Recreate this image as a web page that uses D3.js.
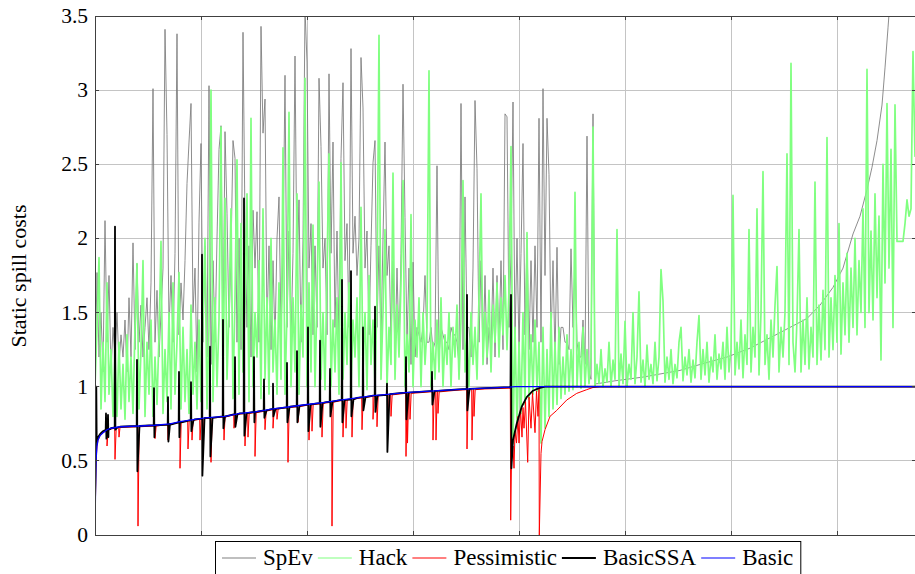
<!DOCTYPE html>
<html><head><meta charset="utf-8">
<script src="https://cdn.jsdelivr.net/npm/d3@7"></script>
<style>body{margin:0;background:#fff}</style>
</head><body><svg id="c" width="915" height="574"></svg>
<script>
// ---------- data ----------
const yTicks=[0,0.5,1,1.5,2,2.5,3,3.5];
const yTickLabels=["0","0.5","1","1.5","2","2.5","3","3.5"];
const xGrid=[106,212,318,424,530,636,742];
const seriesNames=["SpEv","Hack","Pessimistic","BasicSSA","Basic"];
const seriesColors=["#808080","#80ff80","#ff0000","#000000","#0000ff"];
const sampleStep=2; // spacing of the dense samples along x

const hackVals=[
1.0,1.4,1.87,0.85,1.3,0.9,1.7,0.95,1.25,0.8,1.2,
0.8,1.3,0.85,1.15,0.78,1.35,0.9,1.2,0.82,1.4,1.83,0.85,1.25,1.85,0.8,1.3,0.95,1.45,0.8,1.2,0.88,1.35,1.98,0.82,1.25,0.9,1.5,0.85,1.7,0.95,1.3,1.77,0.85,1.4,0.9,1.25,0.82,1.55,0.95,1.3,0.85,1.45,
0.9,1.5,2.0,0.85,1.4,3.0,0.9,1.6,1.0,1.45,2.75,0.88,2.27,1.05,1.5,2.2,0.92,1.6,2.53,0.95,2.1,1.1,1.55,2.3,0.9,2.81,1.0,1.5,1.2,1.85,0.92,2.2,1.05,1.6,0.95,2.0,1.1,1.45,0.95,1.7,1.05,2.61,0.95,1.5,2.85,1.0,1.6,1.1,2.3,0.95,1.55,1.2,3.08,1.0,1.7,1.1,2.09,1.0,1.6,2.38,1.05,1.5,0.98,1.8,2.57,
1.0,1.45,1.1,1.6,0.95,2.51,1.05,1.5,1.15,1.7,1.0,1.45,1.2,1.6,1.0,2.21,1.1,1.5,0.98,1.75,1.15,1.45,1.0,1.6,3.37,1.05,1.5,2.06,1.0,1.4,1.15,2.44,1.05,1.55,1.2,1.7,2.39,1.0,1.35,1.1,2.16,1.0,1.45,1.2,1.6,1.0,1.5,1.15,1.4,3.13,1.0,1.3,1.05,1.45,1.1,1.6,1.0,1.35,1.15,1.5,1.0,1.4,1.2,1.55,1.05,1.45,2.39,1.1,1.35,1.0,1.5,1.15,1.4,1.05,1.6,2.30,1.15,1.5,1.2,1.65,1.1,1.55,1.3,1.7,1.2,1.6,1.35,1.75,1.25,1.65,
2.62,0.62,1.4,0.72,1.3,0.82,1.5,0.88,2.04,0.92,1.35,0.95,1.45,0.97,1.3,0.62,1.4,0.72,1.25,0.8,1.5,0.85,1.3,0.88,1.4,0.92,1.2,0.95,1.35,0.97,1.25,0.98,2.31,1.0,1.3,0.99,1.4,1.0,1.25,1.02,
1.2,2.75,1.0,1.15,1.02,1.25,1.0,1.12,1.03,1.3,1.0,1.18,1.05,2.06,1.0,1.22,1.02,1.44,1.0,1.15,1.05,1.5,1.02,1.2,1.64,1.03,1.18,1.0,1.28,1.05,1.15,1.02,1.3,1.04,1.2,1.79,1.58,1.03,1.2,1.05,1.25,1.02,1.15,1.06,1.3,1.4,1.04,1.2,1.08,1.25,1.03,1.18,1.06,1.3,1.48,
1.05,1.25,1.08,1.3,1.03,1.2,1.1,1.35,1.05,1.22,1.12,1.3,1.05,1.4,1.1,1.25,2.29,1.08,1.3,1.12,1.45,1.06,1.35,1.15,2.06,1.1,1.4,1.2,2.20,1.08,1.5,2.45,1.15,1.35,1.05,1.45,1.2,1.55,1.81,1.1,1.4,1.2,1.5,2.57,1.15,3.18,1.3,1.1,1.45,2.06,
1.1,1.45,1.15,1.6,1.12,1.4,1.2,2.38,1.15,1.55,1.18,1.65,1.25,2.68,1.2,1.6,1.25,1.75,1.3,2.10,1.22,1.7,1.35,1.9,1.3,1.8,1.4,2.0,1.35,1.85,1.5,2.2,1.4,3.14,1.5,2.05,1.45,2.3,1.6,2.15,1.18,2.5,1.7,2.91,1.8,
2.6,1.4,2.9,1.98,1.98,1.98,1.98,2.1,2.26,2.15,2.2,3.26,2.55];

const spEvVals=[
1.0,1.77,1.2,1.5,1.1,2.12,1.3,1.75,1.1,1.4,
1.2,1.5,1.15,1.35,1.2,1.45,1.1,1.6,1.2,1.97,
1.25,1.83,1.3,1.55,1.2,1.4,1.6,1.25,1.7,3.01,
1.3,1.65,1.2,1.5,1.8,3.41,2.70,1.4,1.75,1.3,
1.9,3.38,1.35,1.7,1.45,1.85,2.37,2.65,2.91,1.5,
1.8,1.1,2.11,2.64,1.3,1.95,1.2,3.03,1.15,1.85,
1.3,2.0,2.60,2.76,1.25,2.72,2.17,1.4,1.9,2.66,
2.54,1.3,2.0,1.25,3.39,2.09,1.4,1.95,1.2,2.19,
1.8,2.18,1.3,3.43,2.71,2.94,1.4,1.95,1.25,1.85,
1.3,2.0,2.28,1.35,1.9,3.10,1.4,2.05,1.3,1.9,
3.23,1.75,2.26,1.3,2.0,3.55,3.19,1.8,2.1,1.35,
1.95,1.4,3.08,2.62,1.8,2.0,1.35,3.11,1.9,2.65,
1.4,2.05,1.3,2.54,3.05,1.85,2.1,1.4,3.28,1.9,
2.15,1.75,2.0,3.22,2.88,1.8,2.05,1.35,1.95,2.51,
2.66,1.4,1.95,1.3,2.0,2.65,1.75,1.95,1.3,1.85,
1.2,1.8,1.25,1.9,3.04,2.14,1.3,1.8,1.15,1.84,
1.2,1.4,1.35,1.3,1.4,1.75,1.3,1.3,1.4,1.25,
1.3,2.49,1.2,1.4,1.35,1.3,1.3,1.25,1.4,1.35,
1.35,1.3,1.15,2.91,1.25,2.28,1.4,1.4,1.2,1.8,
2.93,2.47,1.3,1.85,1.2,1.75,1.15,1.4,1.25,1.8,
1.2,1.75,1.3,1.85,1.25,2.84,2.82,1.4,1.9,2.92,
1.3,2.0,1.25,1.9,2.64,1.35,2.0,1.25,1.85,1.3,
1.95,1.4,2.81,1.3,3.01,1.75,2.81,2.43,1.3,1.85,
1.2,1.94,1.15,1.4,1.4,1.3,1.3,1.25,1.93,1.4,
1.85,1.3,1.2,1.2,1.45,1.15,2.69,1.1,1.05,2.84,
1.02];
const spEvTail=[[502,1.02],[520,1.04],[548,1.065],[585,1.11],[605,1.15],[632,1.20],[655,1.26],[678,1.34],[695,1.40],[712,1.46],[725,1.55],[738,1.67],[748,1.80],[758,2.03],[765,2.15],[772,2.33],[777,2.48],[782,2.66],[787,2.90],[790,3.15],[793,3.42],[795,3.6]];

const basicPts=[[0,0],[0.5,0.3],[1,0.5],[2,0.6],[3,0.64],[5,0.67],[8,0.69],[12,0.71],[16,0.72],[25,0.73],[45,0.735],[60,0.74],[75,0.75],[85,0.765],[100,0.78],[110,0.79],[130,0.80],[145,0.82],[160,0.83],[178,0.85],[195,0.865],[212,0.88],[230,0.895],[245,0.91],[262,0.925],[278,0.94],[295,0.95],[310,0.96],[335,0.97],[360,0.98],[390,0.99],[415,0.997],[420,1.0],[821,1.0]];

const basicSSAPts=[[0,0.22],[1,0.62],[1.3,1.0],[1.7,0.63],[3,0.66],[5,0.68],[8,0.70],[12,0.71],[16,0.72],[25,0.73],[45,0.735],[60,0.74],[75,0.75],[85,0.765],[100,0.78],[110,0.79],[130,0.80],[145,0.82],[160,0.83],[178,0.85],[195,0.865],[212,0.88],[230,0.895],[245,0.91],[262,0.925],[278,0.94],[295,0.95],[310,0.96],[335,0.97],[360,0.98],[390,0.99],[415.5,0.997],[416,1.62],[416.4,0.45],[418,0.64],[421.7,0.75],[426.7,0.865],[431.7,0.93],[438,0.973],[444,0.99],[450,1.0],[821,1.0]];
// [x, base, peak, min]
const basicSSASpikes=[[11,0.71,0.82,0.65],[13,0.715,0.81,0.66],[20,0.725,2.08,0.71],[42,0.735,1.18,0.43],[59,0.74,0.99,0.66],[73,0.745,0.93,0.63],[84,0.76,1.10,0.66],[96,0.775,1.03,0.70],[107,0.785,1.89,0.40],[115,0.79,1.27,0.53],[128,0.80,1.45,0.72],[140,0.815,1.20,0.73],[149,0.82,2.27,0.67],[159,0.83,1.20,0.76],[169,0.84,1.05,0.79],[178,0.85,1.02,0.80],[192,0.86,1.16,0.76],[202,0.87,1.24,0.76],[213,0.88,1.40,0.70],[225,0.89,1.31,0.73],[235,0.90,1.12,0.80],[247,0.91,1.72,0.76],[256,0.915,1.78,0.80],[268,0.93,1.40,0.84],[280,0.94,1.54,0.83],[292,0.945,1.02,0.56],[311,0.96,1.20,0.78],[337,0.97,1.10,0.88],[372,0.985,1.62,0.84]];

const pessPts=[[0,0],[1,0.5],[2,0.6],[3,0.64],[5,0.67],[8,0.69],[12,0.705],[16,0.715],[25,0.725],[45,0.73],[60,0.735],[75,0.745],[85,0.76],[100,0.775],[110,0.785],[130,0.795],[145,0.815],[160,0.825],[178,0.845],[195,0.86],[212,0.875],[230,0.89],[245,0.905],[262,0.92],[278,0.935],[295,0.945],[310,0.955],[335,0.965],[360,0.975],[390,0.985],[415.3,0.99],[415.7,0.10],[416.5,0.50],[418,0.60],[419,0.45],[420,0.70],[421.5,0.62],[423,0.80],[424,0.62],[425.5,0.85],[427,0.66],[428,0.86],[429,0.72],[430.5,0.90],[432.7,0.49],[434,0.93],[436,0.72],[437.5,0.96],[440,0.69],[441.5,0.97],[443,0.80],[444,0.99],[444.3,0.0],[446,0.55],[447,0.63],[450,0.71],[455,0.80],[461.7,0.84],[471.7,0.91],[481.7,0.955],[491.7,0.98],[498,0.995],[505,1.0],[821,1.0]];
// [x, base, min]
const pessSpikes=[[12,0.705,0.60],[20,0.72,0.51],[24,0.725,0.66],[43,0.73,0.06],[60,0.735,0.65],[73,0.745,0.64],[85,0.76,0.45],[93,0.77,0.58],[97,0.775,0.64],[105,0.78,0.64],[108,0.785,0.55],[116,0.79,0.49],[129,0.795,0.64],[139,0.81,0.72],[150,0.82,0.60],[153,0.82,0.66],[160,0.825,0.53],[170,0.835,0.71],[178,0.845,0.72],[182,0.85,0.78],[193,0.86,0.49],[203,0.865,0.76],[214,0.875,0.64],[217,0.88,0.70],[227,0.885,0.66],[237,0.895,0.06],[248,0.905,0.66],[251,0.91,0.72],[257,0.915,0.66],[267,0.925,0.71],[278,0.935,0.78],[282,0.94,0.73],[293,0.945,0.71],[296,0.945,0.80],[311,0.955,0.53],[312.5,0.955,0.62],[315,0.955,0.78],[338,0.965,0.64],[341,0.965,0.64],[343,0.965,0.82],[372,0.98,0.58],[377,0.98,0.64],[379,0.98,0.80]];

// ---------- drawing ----------
const FONT="Liberation Serif";
const M={left:95,top:16,right:916,bottom:535};
const svg=d3.select("#c");
const x=d3.scaleLinear().domain([0,821]).range([M.left,M.right]);
const y=d3.scaleLinear().domain([0,3.5]).range([M.bottom,M.top]);

svg.append("defs").append("clipPath").attr("id","clip")
  .append("rect").attr("x",M.left).attr("y",M.top).attr("width",M.right-M.left).attr("height",M.bottom-M.top);

// grid
const g=svg.append("g");
g.selectAll(".hg").data(yTicks.slice(1,-1)).join("line")
 .attr("x1",M.left).attr("x2",M.right).attr("y1",d=>y(d)).attr("y2",d=>y(d))
 .attr("stroke","#c4c4c4").attr("stroke-width",1).attr("shape-rendering","crispEdges");
g.selectAll(".vg").data(xGrid).join("line")
 .attr("x1",d=>x(d)).attr("x2",d=>x(d)).attr("y1",M.top).attr("y2",M.bottom)
 .attr("stroke","#c4c4c4").attr("stroke-width",1).attr("shape-rendering","crispEdges");

const line=d3.line().x(d=>x(d[0])).y(d=>y(d[1]));
const plot=svg.append("g").attr("clip-path","url(#clip)");

// SpEv
const spEvData=spEvVals.map((v,i)=>[i*sampleStep,v]).concat(spEvTail);
plot.append("path").datum(spEvData).attr("d",line).attr("fill","none")
 .attr("stroke",seriesColors[0]).attr("stroke-width",0.9).attr("stroke-linejoin","round");
// Hack
const hackData=hackVals.map((v,i)=>[i*sampleStep,v]);
plot.append("path").datum(hackData).attr("d",line).attr("fill","none")
 .attr("stroke",seriesColors[1]).attr("stroke-width",1.7).attr("stroke-linejoin","round");
// Pessimistic
let pessData=pessPts.slice();
pessSpikes.forEach(s=>{pessData.push([s[0]-0.3,s[1]],[s[0],s[2]],[s[0]+1.2,s[1]]);});
pessData.sort((a,b)=>a[0]-b[0]);
plot.append("path").datum(pessData).attr("d",line).attr("fill","none")
 .attr("stroke",seriesColors[2]).attr("stroke-width",1);
// BasicSSA
let ssaData=basicSSAPts.slice();
basicSSASpikes.forEach(s=>{ssaData.push([s[0]-0.3,s[1]],[s[0],s[2]],[s[0]+0.4,s[3]],[s[0]+2.5,s[1]]);});
ssaData.sort((a,b)=>a[0]-b[0]);
plot.append("path").datum(ssaData).attr("d",line).attr("fill","none")
 .attr("stroke",seriesColors[3]).attr("stroke-width",1.8).attr("stroke-linejoin","round");
// Basic
plot.append("path").datum(basicPts).attr("d",line).attr("fill","none")
 .attr("stroke",seriesColors[4]).attr("stroke-width",1.3);

// frame
svg.append("rect").attr("x",M.left+0.5).attr("y",M.top+0.5).attr("width",M.right-M.left).attr("height",M.bottom-M.top)
 .attr("fill","none").attr("stroke","#404040").attr("stroke-width",1);
// ticks
const tk=svg.append("g").attr("stroke","#404040").attr("stroke-width",1).attr("shape-rendering","crispEdges");
yTicks.forEach(v=>{
  tk.append("line").attr("x1",M.left).attr("x2",M.left+4).attr("y1",y(v)).attr("y2",y(v));
  tk.append("line").attr("x1",M.right-4).attr("x2",M.right).attr("y1",y(v)).attr("y2",y(v));
});
xGrid.forEach(v=>{
  tk.append("line").attr("x1",x(v)).attr("x2",x(v)).attr("y1",M.bottom).attr("y2",M.bottom-4);
  tk.append("line").attr("x1",x(v)).attr("x2",x(v)).attr("y1",M.top).attr("y2",M.top+4);
});
// tick labels
svg.selectAll(".yl").data(yTicks).join("text")
 .attr("x",88).attr("y",d=>y(d)+7).attr("text-anchor","end")
 .style("font-family",FONT).style("font-size","21.5px").attr("fill","#000")
 .text((d,i)=>yTickLabels[i]);
// y label
svg.append("text").attr("transform","translate(26,276) rotate(-90)")
 .attr("text-anchor","middle").style("font-family",FONT).style("font-size","22px")
 .text("Static spill costs");

// legend
const lg=svg.append("g");
const box=lg.append("rect").attr("x",215.5).attr("y",541.5).attr("height",40)
 .attr("fill","#fff").attr("stroke","#000").attr("stroke-width",1);
let cx=222;
seriesNames.forEach((n,i)=>{
  lg.append("line").attr("x1",cx).attr("x2",cx+34).attr("y1",558).attr("y2",558)
   .attr("stroke",seriesColors[i]).attr("stroke-width",i===3?1.8:1.2);
  const t=lg.append("text").attr("x",cx+41).attr("y",565)
   .style("font-family",FONT).style("font-size","23px").text(n);
  cx+=41+t.node().getComputedTextLength()+5;
});
box.attr("width",cx-215+2);
</script></body></html>
